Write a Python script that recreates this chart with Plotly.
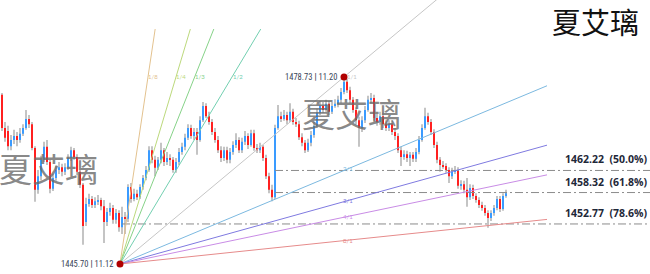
import plotly.graph_objects as go

# ---------------- data ----------------
opens = [1475.6,1469.7,1469.2,1466.5,1467.6,1468.3,1467.6,1468.7,1469.7,1471.3,
         1470.4,1466.2,1458.8,1461.2,1464.1,1466.4,1463.7,1459.0,1460.9,1462.3,
         1462.8,1462.0,1462.8,1464.4,1465.8,1464.6,1462.0,1459.7,1453.1,1456.3,
         1457.2,1456.1,1456.8,1457.0,1455.9,1453.1,1454.9,1455.6,1453.5,1454.7,
         1452.2,1454.0,1453.7,1459.3,1457.2,1458.1,1457.5,1459.3,1460.9,1462.3,
         1465.8,1464.1,1462.7,1464.1,1465.8,1463.7,1464.4,1464.1,1462.3,1463.7,
         1465.5,1466.4,1468.0,1469.7,1468.3,1469.0,1467.6,1471.1,1473.6,1471.8,
         1470.8,1469.0,1467.6,1465.8,1464.4,1465.8,1464.1,1465.5,1466.7,1467.6,
         1465.8,1467.3,1468.3,1466.7,1468.8,1466.2,1465.8,1466.4,1464.4,1461.2,
         1458.8,1457.5,1469.7,1471.8,1471.3,1472.0,1471.1,1472.6,1470.8,1470.4,
         1468.1,1467.1,1465.8,1467.1,1468.5,1470.1,1472.4,1473.6,1472.9,1474.0,
         1472.6,1473.6,1474.0,1474.7,1476.1,1477.9,1476.4,1474.7,1472.9,1471.1,
         1469.7,1471.1,1472.9,1474.7,1475.0,1471.5,1470.8,1471.8,1470.4,1469.7,
         1470.4,1469.0,1468.3,1465.8,1464.6,1465.1,1464.4,1465.0,1464.3,1465.5,
         1467.6,1469.7,1471.8,1470.8,1469.0,1466.7,1464.1,1463.2,1463.0,1462.3,
         1461.2,1462.0,1462.3,1459.5,1459.8,1458.8,1457.5,1459.1,1457.7,1457.0,
         1456.1,1455.6,1454.7,1453.8,1454.7,1455.6,1457.2,1455.4,1457.7]
highs = [1475.9,1470.8,1470.1,1468.5,1469.4,1469.0,1469.7,1470.4,1472.9,1472.0,
         1470.8,1466.5,1462.3,1464.8,1467.3,1467.6,1464.1,1461.6,1463.0,1463.7,
         1463.4,1463.5,1465.1,1466.4,1466.2,1465.1,1462.3,1460.0,1457.4,1458.1,
         1457.7,1457.5,1457.9,1457.4,1457.0,1455.6,1456.5,1456.1,1455.4,1455.2,
         1455.8,1454.9,1459.8,1460.0,1459.0,1458.8,1459.8,1461.4,1463.0,1466.5,
         1466.5,1464.8,1464.6,1467.1,1466.2,1465.5,1465.1,1464.6,1464.4,1466.2,
         1467.1,1468.7,1470.4,1470.3,1469.7,1469.7,1471.8,1474.3,1474.1,1472.6,
         1471.3,1469.7,1468.3,1466.5,1466.4,1466.4,1466.2,1467.4,1468.8,1468.1,
         1468.0,1469.2,1468.8,1469.4,1469.4,1466.9,1467.1,1466.7,1465.0,1461.8,
         1459.7,1470.3,1473.8,1472.6,1472.9,1472.6,1474.1,1473.1,1471.5,1471.0,
         1468.8,1467.6,1467.8,1469.2,1470.8,1473.1,1474.5,1474.3,1474.7,1474.5,
         1474.3,1474.8,1475.4,1476.8,1478.73,1478.4,1477.0,1475.2,1473.4,1471.7,
         1471.8,1473.6,1475.4,1475.9,1475.6,1472.2,1472.6,1472.4,1471.1,1471.1,
         1471.0,1469.7,1468.8,1466.4,1465.8,1465.7,1465.5,1465.5,1466.2,1468.3,
         1470.4,1473.3,1472.4,1471.3,1469.5,1467.3,1464.6,1463.9,1463.5,1462.8,
         1462.7,1463.0,1462.8,1460.5,1460.4,1460.9,1459.8,1459.7,1458.2,1457.5,
         1456.7,1456.1,1455.2,1455.2,1456.1,1457.7,1457.7,1458.2,1458.8]
lows = [1469.2,1467.3,1465.8,1465.8,1466.9,1466.5,1467.1,1468.3,1469.4,1469.7,
        1465.8,1456.7,1458.1,1460.5,1463.7,1463.2,1458.2,1458.6,1460.4,1461.6,
        1461.2,1461.4,1462.3,1463.9,1464.1,1461.4,1459.1,1449.1,1452.4,1455.8,
        1455.6,1455.6,1456.1,1455.2,1449.4,1452.4,1454.2,1452.8,1452.8,1451.4,
        1451.0,1451.0,1453.1,1456.5,1456.8,1457.0,1457.2,1458.8,1460.5,1462.0,
        1463.5,1461.2,1462.3,1463.5,1463.0,1463.2,1463.0,1461.8,1461.8,1463.2,
        1465.0,1465.8,1467.6,1467.8,1467.6,1465.0,1467.3,1470.8,1471.5,1470.3,
        1468.5,1467.1,1465.3,1463.7,1463.9,1463.5,1463.5,1465.0,1466.2,1465.3,
        1465.3,1466.7,1466.0,1466.4,1465.7,1465.3,1465.3,1463.9,1460.7,1458.2,
        1456.8,1457.2,1469.4,1470.8,1471.0,1470.4,1470.8,1470.3,1469.9,1467.6,
        1466.5,1465.3,1465.5,1466.5,1468.0,1469.7,1472.0,1472.4,1472.6,1472.0,
        1472.2,1473.3,1473.4,1474.1,1475.7,1475.9,1474.1,1472.4,1470.4,1466.4,
        1469.0,1470.6,1472.6,1474.1,1471.0,1470.1,1470.3,1469.7,1469.2,1469.2,
        1468.5,1467.6,1465.3,1463.0,1464.1,1463.7,1463.0,1463.7,1463.7,1465.1,
        1467.3,1469.4,1470.3,1468.5,1466.2,1463.5,1462.0,1462.5,1461.8,1460.0,
        1460.7,1461.6,1459.0,1458.8,1458.2,1455.8,1457.0,1457.2,1456.5,1455.6,
        1455.1,1454.2,1452.1,1453.3,1454.2,1455.2,1454.9,1455.1,1457.4]
closes = [1469.7,1468.0,1466.5,1467.6,1468.3,1467.6,1468.7,1469.7,1471.3,1470.4,
          1466.2,1458.8,1461.2,1464.1,1466.4,1463.7,1459.0,1460.9,1462.3,1462.8,
          1462.0,1462.8,1464.4,1465.8,1464.6,1462.0,1459.7,1452.4,1456.3,1457.2,
          1456.1,1456.8,1457.0,1455.9,1453.1,1454.9,1455.6,1453.5,1454.7,1452.2,
          1454.0,1453.7,1459.3,1457.2,1458.1,1457.5,1459.3,1460.9,1462.3,1465.8,
          1464.1,1462.7,1464.1,1465.8,1463.7,1464.4,1464.1,1462.3,1463.7,1465.5,
          1466.4,1468.0,1469.7,1468.3,1469.0,1467.6,1471.1,1473.6,1471.8,1470.8,
          1469.0,1467.6,1465.8,1464.4,1465.8,1464.1,1465.5,1466.7,1467.6,1465.8,
          1467.3,1468.3,1466.7,1468.8,1466.2,1465.8,1466.4,1464.4,1461.2,1458.8,
          1457.5,1469.7,1471.8,1471.3,1472.0,1471.1,1472.6,1470.8,1470.4,1468.1,
          1467.1,1465.8,1467.1,1468.5,1470.1,1472.4,1473.6,1472.9,1474.0,1472.6,
          1473.6,1474.0,1474.7,1476.1,1477.9,1476.4,1474.7,1472.9,1471.1,1469.7,
          1471.1,1472.9,1474.7,1475.0,1471.5,1470.8,1471.8,1470.4,1469.7,1470.4,
          1469.0,1468.3,1465.8,1464.6,1465.1,1464.4,1465.0,1464.3,1465.5,1467.6,
          1469.7,1471.8,1470.8,1469.0,1466.7,1464.1,1463.2,1463.0,1462.3,1461.2,
          1462.0,1462.3,1459.5,1459.8,1458.8,1457.5,1459.1,1457.7,1457.0,1456.1,
          1455.6,1454.7,1453.8,1454.7,1455.6,1457.2,1455.4,1457.7,1458.2]

low_anchor_x, low_anchor_p = 39.33, 1445.70
high_anchor_x, high_anchor_p = 114, 1478.73
low_anchor_text = "1445.70 <b>|</b> 11.12"
high_anchor_text = "1478.73 <b>|</b> 11.20"

fan_labels = ["1/8", "1/4", "1/3", "1/2", "1/1", "2/1", "3/1", "4/1", "8/1"]
fan_colors = ["#e3c28f", "#bcd97c", "#86d288", "#72cfb0", "#c6c6c6",
              "#7cb9e0", "#7f7ae0", "#c98ce6", "#e68b8b"]

fib_levels = [1462.22, 1458.32, 1452.77]
fib_pcts = ["50.0%", "61.8%", "78.6%"]
fib_start = [91, 91, 40]

watermark = "夏艾璃"

# ---------------- figure ----------------
X_MIN, X_MAX = -2 / 3, 216.0
Y_MIN, Y_MAX = 1443.93, 1492.33
W, H = 650, 274

idx = list(range(len(opens)))
fig = go.Figure()

# wicks (bars, so that bodies drawn afterwards sit on top)
fig.add_trace(go.Bar(x=idx, y=[h - l for h, l in zip(highs, lows)], base=lows,
                     width=1 / 3, marker=dict(color="#c4c4c4", line=dict(width=0)),
                     hoverinfo="skip"))

# bodies
base = [min(o, c) for o, c in zip(opens, closes)]
height = [max(abs(c - o), 0.18) for o, c in zip(opens, closes)]
colors = ["#3a9bff" if c >= o else "#ff2020" for o, c in zip(opens, closes)]
fig.add_trace(go.Bar(x=idx, y=height, base=base, width=2 / 3,
                     marker=dict(color=colors, line=dict(width=0)),
                     hoverinfo="skip"))

# fib lines
for lvl, st in zip(fib_levels, fib_start):
    fig.add_trace(go.Scatter(x=[st, X_MAX], y=[lvl, lvl], mode="lines",
                             line=dict(color="#8c8c8c", width=1,
                                       dash="8px,3px,2px,3px"),
                             hoverinfo="skip"))

# gann fan
unit = (high_anchor_p - low_anchor_p) / (high_anchor_x - low_anchor_x)
fan_top_p = 1487.2
fan_right_x = 181.67
label_p = 1478.9
label_x = 115.3
annotations = []
for lab, col in zip(fan_labels, fan_colors):
    a, b = [int(v) for v in lab.split("/")]
    slope = unit * b / a
    if slope > unit * 1.01:
        xe = low_anchor_x + (fan_top_p - low_anchor_p) / slope
        pe = fan_top_p
        lx = low_anchor_x + (label_p - low_anchor_p) / slope
        lp = label_p
        xs = 5
    elif abs(slope - unit) < 1e-9:
        xe = fan_right_x
        pe = low_anchor_p + slope * (xe - low_anchor_x)
        lx, lp = high_anchor_x, high_anchor_p
        xs = 8
    else:
        xe = fan_right_x
        pe = low_anchor_p + slope * (xe - low_anchor_x)
        lx = label_x
        lp = low_anchor_p + slope * (label_x - low_anchor_x)
        xs = 0
    fig.add_trace(go.Scatter(x=[low_anchor_x, xe], y=[low_anchor_p, pe],
                             mode="lines", line=dict(color=col, width=1),
                             hoverinfo="skip"))
    annotations.append(dict(x=lx, y=lp, xref="x", yref="y", text=lab,
                            showarrow=False, xshift=xs, xanchor="center",
                            font=dict(size=6, color=col, family="Lato")))

# anchor dots
fig.add_trace(go.Scatter(x=[low_anchor_x, high_anchor_x],
                         y=[low_anchor_p, high_anchor_p], mode="markers",
                         marker=dict(color="#b00000", size=7),
                         hoverinfo="skip"))

label_font = dict(size=8.5, color="#3a4658",
                  family="Liberation Sans Narrow, Roboto Condensed, Roboto")
annotations.append(dict(x=low_anchor_x, y=low_anchor_p, xref="x", yref="y",
                        text=low_anchor_text, showarrow=False, xanchor="right",
                        xshift=-4, font=label_font))
annotations.append(dict(x=high_anchor_x, y=high_anchor_p, xref="x", yref="y",
                        text=high_anchor_text, showarrow=False, xanchor="right",
                        xshift=-4, font=label_font))

# fib labels
for lvl, pct in zip(fib_levels, fib_pcts):
    annotations.append(dict(x=563 / W, y=lvl, xref="paper", yref="y",
                            text=f"<b>{lvl:.2f}</b>  <b>({pct})</b>",
                            showarrow=False, xanchor="left", yanchor="middle",
                            yshift=11,
                            font=dict(size=10.5, color="#1e2838",
                                      family="Open Sans")))

# watermarks
annotations.append(dict(x=641 / W, y=1 - 21 / H, xref="paper", yref="paper",
                        text=watermark, showarrow=False, xanchor="right",
                        yanchor="middle",
                        font=dict(size=29, color="#111111",
                                  family="Noto Sans CJK SC")))
annotations.append(dict(x=351 / W, y=1 - 113 / H, xref="paper", yref="paper",
                        text=watermark, showarrow=False, xanchor="center",
                        yanchor="middle",
                        font=dict(size=33, color="rgba(105,105,105,0.8)",
                                  family="Noto Sans CJK SC")))
annotations.append(dict(x=48 / W, y=1 - 168 / H, xref="paper", yref="paper",
                        text=watermark, showarrow=False, xanchor="center",
                        yanchor="middle",
                        font=dict(size=33, color="rgba(105,105,105,0.8)",
                                  family="Noto Sans CJK SC")))

fig.update_layout(
    width=W, height=H, margin=dict(l=0, r=0, t=0, b=0),
    paper_bgcolor="white", plot_bgcolor="white", showlegend=False,
    barmode="overlay",
    xaxis=dict(range=[X_MIN, X_MAX], visible=False, fixedrange=True),
    yaxis=dict(range=[Y_MIN, Y_MAX], visible=False, fixedrange=True),
    annotations=annotations,
)

fig.write_html("out.html")
